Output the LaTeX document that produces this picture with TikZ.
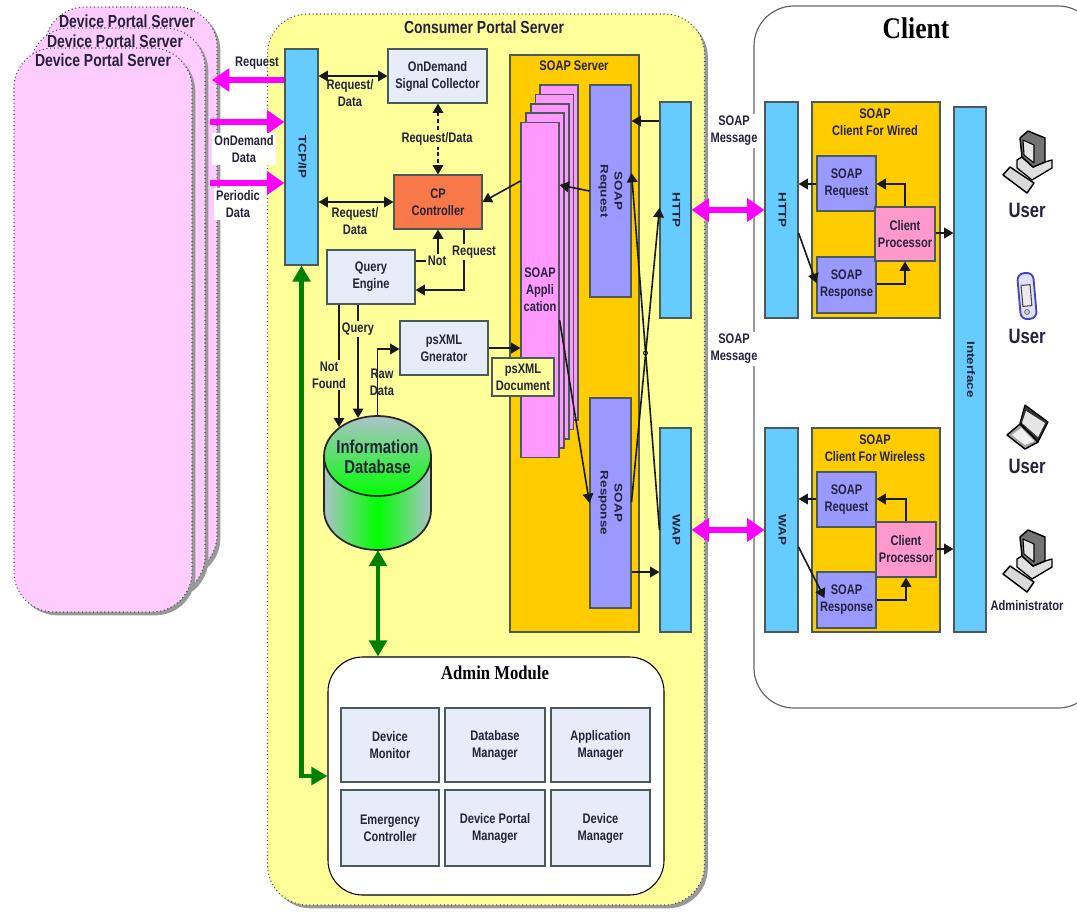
\documentclass[tikz,border=0pt]{standalone}
\usepackage{fontspec}
\setmainfont{Liberation Sans}[FakeStretch=0.8]
\newfontfamily\titleFont{Liberation Serif}[FakeStretch=0.85]
\newfontfamily\vertFont{Liberation Sans}[FakeStretch=1.22]
\usetikzlibrary{arrows.meta}
\usetikzlibrary{shadows}
\usetikzlibrary{shapes.geometric}
\definecolor{textDark}{HTML}{23233A}
\definecolor{edgeDark}{HTML}{4A5A5A}
\definecolor{portalPink}{HTML}{FFCCFF}
\definecolor{portalYellow}{HTML}{FFFF99}
\definecolor{barBlue}{HTML}{66CCFF}
\definecolor{paleBlue}{HTML}{E6ECF8}
\definecolor{cpOrange}{HTML}{F9784A}
\definecolor{soapOrange}{HTML}{FFCC00}
\definecolor{soapViolet}{HTML}{9999FF}
\definecolor{appPink}{HTML}{FF99FF}
\definecolor{procPink}{HTML}{FF99CC}
\definecolor{arrowMagenta}{HTML}{FF00FF}
\definecolor{arrowGreen}{HTML}{008000}
\definecolor{dbGray}{HTML}{AEC2CC}
\newcommand{\vertLabel}[1]{\rotatebox{-90}{\vertFont\fontsize{8.25}{12}\selectfont\bfseries\renewcommand{\arraystretch}{0.88}\begin{tabular}{@{}c@{}}#1\end{tabular}}}
\tikzset{
  smallText/.style={font=\fontsize{10.4}{12.75}\selectfont\bfseries,text=textDark,align=center,inner sep=0pt},
  bigText/.style={font=\fontsize{13.1}{15}\selectfont\bfseries,text=textDark,inner sep=0pt},
  userText/.style={font=\fontsize{15.6}{17}\selectfont\bfseries,text=textDark,inner sep=0pt},
  plainBox/.style={draw=edgeDark,line width=0.8pt,inner sep=0pt,smallText},
  paleBox/.style={plainBox,fill=paleBlue},
  barBox/.style={plainBox,fill=barBlue},
  orangeBox/.style={plainBox,fill=soapOrange},
  violetBox/.style={plainBox,fill=soapViolet},
  appBox/.style={plainBox,fill=appPink},
  procBox/.style={plainBox,fill=procPink},
  cpBox/.style={plainBox,fill=cpOrange},
  docBox/.style={plainBox,fill=portalYellow},
  roundDotted/.style={draw=black!70,dotted,line width=0.8pt,inner sep=0pt,
    drop shadow={shadow xshift=2.5pt,shadow yshift=-2.5pt,fill=black!40,opacity=1}},
  lineDecorate/.style={line width=1.2pt,draw=black!90},
  blackTip/.style={lineDecorate,-{Triangle[length=7pt,width=8pt]}},
  blackBoth/.style={lineDecorate,{Triangle[length=7pt,width=8pt]}-{Triangle[length=7pt,width=8pt]}},
  dashBoth/.style={blackBoth,densely dashed},
  pinkTip/.style={draw=arrowMagenta,line width=5pt,-{Triangle[length=13pt,width=17pt]}},
  pinkBoth/.style={draw=arrowMagenta,line width=5pt,{Triangle[length=13pt,width=17pt]}-{Triangle[length=13pt,width=17pt]}},
  greenBoth/.style={draw=arrowGreen,line width=3.6pt,{Triangle[length=12pt,width=13pt]}-{Triangle[length=12pt,width=13pt]}},
  pcIcon/.pic={
    \draw[fill=black!12,line width=1pt,line join=round] (14,28) -- (19,25) -- (30,35) -- (42,30) -- (49,28) -- (49,36) -- (29,48) -- (14,36) -- cycle;
    \draw[fill=black!55,line width=1.1pt,line join=round] (17,6) -- (25,-1) -- (42,6) -- (42,30) -- (30,35) -- (19,25) -- cycle;
    \draw[fill=black!10,line width=0.8pt,line join=round] (20,8) -- (31,13) -- (31,31) -- (21,23) -- cycle;
    \draw[fill=black!15,line width=1.1pt,line join=round] (0,43) -- (7,35) -- (31,51) -- (24,61) -- cycle;
  },
  phoneIcon/.pic={
    \draw[draw=blue!45!gray,fill=blue!12,line width=1.4pt,rounded corners=5pt,rotate=5] (-8,-23) rectangle (8,23);
    \draw[draw=black!70,fill=black!8,line width=0.8pt,rotate=5] (-5,-11) rectangle (4,10);
    \draw[draw=black!60,fill=black!20,line width=0.5pt] (0,16) circle (2.5);
  },
  laptopIcon/.pic={
    \draw[fill=black!80,line width=0.9pt,line join=round] (18,0) -- (41,17) -- (31,37) -- (13,18) -- cycle;
    \draw[fill=black!10,draw=none] (19,6) -- (38,18) -- (31,32) -- (15,18) -- cycle;
    \draw[fill=black!35,line width=1.1pt,line join=round] (0,30) -- (13,19) -- (31,37) -- (18,44) -- cycle;
    \draw[fill=black!6,draw=none] (5,30) -- (14,23) -- (27,36) -- (18,40) -- cycle;
  }
}

\begin{document}
\begin{tikzpicture}
[x=0.75pt,y=-0.75pt]
\useasboundingbox (0,0) rectangle (1077,911);
%% big rounded areas
\foreach \nodename/\x/\y/\boxw/\boxh in {
  portalBack/131/291/172/568, portalMid/117.5/312/175/568, portalFront/103/330/178/564}
{
  \node[roundDotted,fill=portalPink,rounded corners=30pt,minimum width=\boxw*0.75pt,minimum height=\boxh*0.75pt] (\nodename) at (\x,\y) {};
}
\node[roundDotted,fill=portalYellow,rounded corners=30pt,minimum width=327.75pt,minimum height=668.25pt] (consumerPortal) at (486,459.5) {};
\node[draw=black!60,line width=0.9pt,fill=white,rounded corners=30pt,minimum width=258pt,minimum height=526.5pt,inner sep=0pt] (clientArea) at (926,357) {};
\node[draw=black,line width=0.8pt,fill=white,rounded corners=26pt,minimum width=252pt,minimum height=178.5pt,inner sep=0pt] (adminModule) at (496,776) {};
%% nodes or vertices
\foreach \nodename/\x/\y/\boxw/\boxh/\boxstyle/\boxtext in {
  soapServer/574.5/343.5/129/577/orangeBox/{},
  wiredClient/876/210/128/216/orangeBox/{},
  wirelessClient/876/530/128/204/orangeBox/{},
  tcpIp/301.5/157/33/216/barBox/{\vertLabel{TCP/IP}},
  signalCollector/437.5/76/99/54/paleBox/{OnDemand\\Signal Collector},
  cpController/438/202/88/54/cpBox/{CP\\Controller},
  queryEngine/371/277/88/54/paleBox/{Query\\Engine},
  psGenerator/444/348/88/54/paleBox/{psXML\\Gnerator},
  soapAppE/559/252.5/38/335/appBox/{},
  soapAppD/554.5/262/38/335/appBox/{},
  soapAppC/550/271.5/38/335/appBox/{},
  soapAppB/545/280.5/38/335/appBox/{},
  soapAppA/540/290/38/335/appBox/{SOAP\\Appli\\cation},
  soapRequest/610.5/191/41/212/violetBox/{\vertLabel{SOAP\\Request}},
  soapResponse/610.5/503/41/210/violetBox/{\vertLabel{SOAP\\Response}},
  serverHttp/675.5/210/31/216/barBox/{\vertLabel{HTTP}},
  serverWap/675.5/530/31/204/barBox/{\vertLabel{WAP}},
  clientHttp/781.5/210/33/216/barBox/{\vertLabel{HTTP}},
  clientWap/781.5/530/33/204/barBox/{\vertLabel{WAP}},
  wiredRequest/846.5/183.5/59/55/violetBox/{SOAP\\Request},
  wiredResponse/846.5/285/59/56/violetBox/{SOAP\\Response},
  wiredProcessor/905/234/60/54/procBox/{Client\\Processor},
  wirelessRequest/846.5/499.5/59/55/violetBox/{SOAP\\Request},
  wirelessResponse/846.5/600/59/56/violetBox/{SOAP\\Response},
  wirelessProcessor/906/549.5/60/55/procBox/{Client\\Processor},
  clientInterface/970/369.5/32/525/barBox/{\vertLabel{Interface}},
  deviceMonitor/390/745/98/74/paleBox/{Device\\Monitor},
  databaseManager/495/745/100/74/paleBox/{Database\\Manager},
  applicationManager/600.5/745/99/74/paleBox/{Application\\Manager},
  emergencyController/390/828/98/76/paleBox/{Emergency\\Controller},
  portalManager/495/828/100/76/paleBox/{Device Portal\\Manager},
  deviceManager/600.5/828/99/76/paleBox/{Device\\Manager}}
{
  \node[\boxstyle,minimum width=\boxw*0.75pt,minimum height=\boxh*0.75pt] (\nodename) at (\x,\y) {\boxtext};
}
%% database
\coordinate (dbBottom) at (378,550);
\path[left color=dbGray,right color=dbGray,middle color=green,draw=black!85,line width=1.3pt]
  (324,456) -- (324,510) arc[start angle=180,end angle=0,x radius=53.5,y radius=40] -- (431,456) -- cycle;
\node[draw=black!85,line width=1.3pt,ellipse,top color=dbGray,bottom color=green,minimum width=80.25pt,minimum height=60pt,inner sep=0pt] (dbTop) at (377.5,456) {};
\node[font=\fontsize{14}{15}\selectfont\bfseries,text=textDark,align=center,inner sep=0pt] (dbLabel) at (377.5,457) {Information\\Database};
%% free ends of the pink arrows
\coordinate (requestEnd) at (212,80);
\coordinate (demandEnd) at (210,122);
\coordinate (periodicEnd) at (210,183);
%% edges or lines
\foreach \startnode/\endnode/\y/\tipstyle in {
  tcpIp.west/requestEnd/80/pinkTip, demandEnd/tcpIp.west/122/pinkTip, periodicEnd/tcpIp.west/183/pinkTip,
  tcpIp.east/signalCollector.west/76/blackBoth, tcpIp.east/cpController.west/202/blackBoth,
  psGenerator.east/soapAppA.west/348/blackTip, serverHttp.west/soapRequest.east/121/blackTip,
  soapResponse.east/serverWap.west/572/blackTip, serverHttp.east/clientHttp.west/210/pinkBoth,
  serverWap.east/clientWap.west/530/pinkBoth, wiredRequest.west/clientHttp.east/184/blackTip,
  wiredProcessor.east/clientInterface.west/233/blackTip, wirelessRequest.west/clientWap.east/499/blackTip,
  wirelessProcessor.east/clientInterface.west/549/blackTip}
{
  \draw[\tipstyle] (\startnode |- 0,\y) -- (\endnode |- 0,\y);
}
\foreach \startnode/\endnode/\ya/\yb in {
  soapAppA.west/cpController.east/181/202, soapRequest.west/soapAppA.east/191/185,
  soapAppA.east/soapResponse.west/320/503, soapResponse.east/serverHttp.west/502/208,
  serverWap.west/soapRequest.east/530/173, clientHttp.east/wiredResponse.west/233/283}
{
  \draw[blackTip] (\startnode |- 0,\ya) -- (\endnode |- 0,\yb);
}
\draw[blackTip] (clientWap.east |- 0,547) -- ([xshift=6pt]wirelessResponse.west |- 0,598);
\draw[dashBoth] (signalCollector.south -| cpController.north) -- (cpController.north);
\draw[blackTip] (queryEngine.east |- 0,261) -- (cpController.south |- 0,261) -- (cpController.south);
\draw[blackTip] (cpController.south -| 464,0) -- (464,290) -- (queryEngine.east |- 0,290);
\draw[blackTip] (queryEngine.south -| dbTop.north west) -- (dbTop.north west);
\draw[blackTip] (queryEngine.south -| dbTop.117) -- (dbTop.117);
\draw[blackTip] (dbTop.north) -- (dbTop.north |- 0,349) -- (psGenerator.west |- 0,349);
\draw[blackTip] (wiredProcessor.north) -- (wiredProcessor.north |- 0,184) -- (wiredRequest.east |- 0,184);
\draw[blackTip] (wiredResponse.east |- 0,284) -- (wiredProcessor.south |- 0,284) -- (wiredProcessor.south);
\draw[blackTip] (wirelessProcessor.north) -- (wirelessProcessor.north |- 0,499) -- (wirelessRequest.east |- 0,499);
\draw[blackTip] (wirelessResponse.east |- 0,600) -- (wirelessProcessor.south |- 0,600) -- (wirelessProcessor.south);
\draw[greenBoth] (tcpIp.south) -- (tcpIp.south |- 0,776) -- (adminModule.west |- 0,776);
\draw[greenBoth] (dbBottom) -- (adminModule.north -| dbBottom);
\node[draw=black,line width=0.6pt,circle,minimum size=3pt,inner sep=0pt] (crossHop) at (645.5,353) {};
%% document label sits on the arrows
\node[docBox,minimum width=46.5pt,minimum height=28.5pt] (psDocument) at (523,377) {psXML\\Document};
%% labels
\foreach \nodename/\x/\y/\boxtext in {
  labelRequest/257/63/Request, labelTopData/350/93/{Request/\\Data}, labelCpData/355/221/{Request/\\Data},
  labelRaw/382/382/{Raw\\Data}, soapServerTitle/574/66/SOAP Server,
  wiredTitle/875/122/{SOAP\\Client For Wired}, wirelessTitle/875/448/{SOAP\\Client For Wireless}}
{
  \node[smallText] (\nodename) at (\x,\y) {\boxtext};
}
\foreach \nodename/\x/\y/\backfill/\boxtext in {
  labelDemand/244/149/white/{OnDemand\\Data}, labelPeriodic/238/204/white/{Periodic\\Data},
  labelMessageA/734/131/white/{SOAP\\Message}, labelMessageB/734/349/white/{SOAP\\Message},
  labelSignal/437/139/portalYellow/{Request/Data}, labelNot/437/261/portalYellow/Not,
  labelCpRequest/474/252/portalYellow/Request, labelQuery/358/329/portalYellow/Query,
  labelNotFound/329/375/portalYellow/{Not\\Found}}
{
  \node[smallText,fill=\backfill,inner sep=1.5pt] (\nodename) at (\x,\y) {\boxtext};
}
\foreach \nodename/\x/\y/\boxtext in {
  titleBack/127/21/Device Portal Server, titleMid/115/41/Device Portal Server,
  titleFront/103/60/Device Portal Server, titleConsumer/484/27/Consumer Portal Server}
{
  \node[bigText] (\nodename) at (\x,\y) {\boxtext};
}
\node[font=\titleFont\fontsize{22.5}{25}\selectfont\bfseries,text=black,inner sep=0pt] (titleClient) at (916,28) {Client};
\node[font=\titleFont\fontsize{14.7}{17}\selectfont\bfseries,text=black,inner sep=0pt] (titleAdmin) at (495,673) {Admin Module};
%% users
\foreach \nodename/\x/\y/\boxtext in {
  userA/1027/210/User, userB/1027/336/User, userC/1027/466/User}
{
  \node[userText] (\nodename) at (\x,\y) {\boxtext};
}
\node[smallText] (userAdmin) at (1027,606) {Administrator};
\pic at (1003,132) {pcIcon};
\pic at (1027,296) {phoneIcon};
\pic at (1007,405) {laptopIcon};
\pic at (1003,531) {pcIcon};
\end{tikzpicture}
\end{document}
